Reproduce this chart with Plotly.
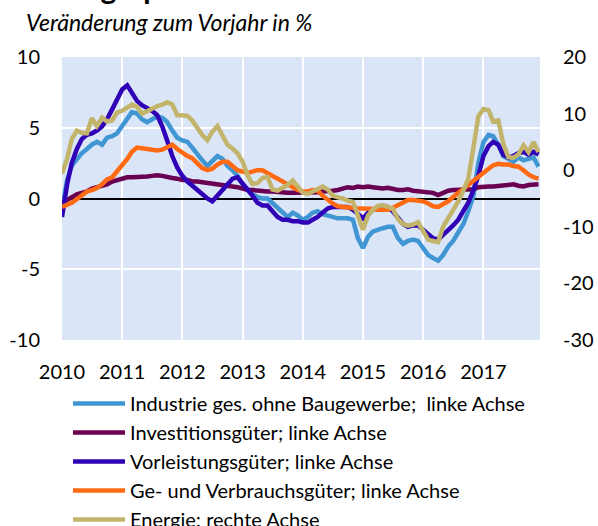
import pandas as pd
import plotly.graph_objects as go

months = pd.date_range("2010-01-01", "2017-12-01", freq="MS")

industrie = [-0.8, 1.3, 2.3, 2.8, 3.2, 3.5, 3.8, 4.0, 3.8, 4.3, 4.4, 4.6,
             5.1, 5.6, 6.1, 6.0, 5.6, 5.4, 5.6, 5.8, 5.7, 5.4, 4.8, 4.3,
             4.1, 4.0, 3.6, 3.1, 2.7, 2.3, 2.6, 3.0, 2.8, 2.3, 2.0, 1.6,
             1.0, 0.6, 0.3, 0.1, 0.0, 0.0, -0.3, -0.6, -0.9, -1.3, -1.0, -1.2,
             -1.5, -1.3, -1.0, -0.9, -1.1, -1.2, -1.3, -1.4, -1.4, -1.4, -1.5, -2.8,
             -3.5, -2.7, -2.35, -2.2, -2.1, -2.0, -2.0, -2.8, -3.2, -3.0, -2.9, -3.0,
             -3.5, -4.0, -4.2, -4.4, -4.0, -3.4, -3.0, -2.4, -1.8, -0.9, 0.2, 2.5,
             4.0, 4.5, 4.4, 3.8, 3.0, 2.8, 2.6, 2.9, 2.7, 2.8, 2.9, 2.25]

investition = [-0.3, -0.1, 0.1, 0.3, 0.4, 0.5, 0.7, 0.8, 0.9, 1.0, 1.2, 1.3,
               1.4, 1.5, 1.5, 1.5, 1.5, 1.55, 1.6, 1.65, 1.6, 1.5, 1.45, 1.4,
               1.3, 1.3, 1.2, 1.2, 1.15, 1.1, 1.05, 1.0, 0.95, 0.95, 0.9, 0.8,
               0.7, 0.6, 0.6, 0.55, 0.5, 0.5, 0.5, 0.45, 0.4, 0.4, 0.4, 0.4,
               0.4, 0.4, 0.4, 0.45, 0.5, 0.5, 0.55, 0.6, 0.7, 0.8, 0.75, 0.85,
               0.8, 0.85, 0.8, 0.75, 0.7, 0.75, 0.65, 0.6, 0.6, 0.65, 0.55, 0.5,
               0.45, 0.4, 0.4, 0.25, 0.4, 0.55, 0.6, 0.6, 0.6, 0.6, 0.65, 0.8,
               0.85, 0.85, 0.85, 0.9, 0.9, 0.95, 1.0, 0.9, 0.85, 0.95, 1.0, 1.0]

vorleistung = [-1.3, 1.0, 2.5, 3.5, 4.2, 4.5, 4.6, 4.8, 5.1, 5.6, 6.3, 7.0,
               7.7, 8.0, 7.5, 6.9, 6.6, 6.4, 6.2, 5.9, 5.1, 4.1, 3.0, 2.2,
               1.6, 1.2, 0.9, 0.6, 0.3, 0.0, -0.2, 0.2, 0.7, 1.1, 1.4, 1.5,
               1.0, 0.6, 0.2, -0.3, -0.5, -0.5, -0.9, -1.3, -1.5, -1.5, -1.6, -1.6,
               -1.7, -1.7, -1.5, -1.3, -1.0, -0.7, -0.6, -0.6, -0.6, -0.6, -0.8, -1.1,
               -1.4, -1.0, -0.8, -0.6, -0.5, -0.6, -0.9, -1.4, -1.8, -2.0, -1.9, -1.9,
               -2.2, -2.6, -2.8, -2.9, -2.6, -2.3, -1.9, -1.5, -0.9, -0.3, 0.6, 1.6,
               3.0, 3.7, 4.0, 3.8, 3.1, 2.9, 3.0, 3.2, 3.3, 3.1, 3.3, 3.1]

verbrauch = [-0.6, -0.45, -0.3, -0.05, 0.2, 0.5, 0.6, 0.75, 1.0, 1.35, 1.5, 1.9,
             2.3, 2.8, 3.3, 3.6, 3.55, 3.5, 3.4, 3.4, 3.45, 3.6, 3.8, 3.5,
             3.2, 3.0, 2.85, 2.5, 2.15, 2.0, 2.1, 2.4, 2.6, 2.6, 2.3, 2.0,
             1.9, 1.8, 1.9, 2.0, 2.0, 1.8, 1.55, 1.35, 1.15, 0.95, 0.75, 0.6,
             0.5, 0.5, 0.6, 0.55, 0.2, -0.1, -0.35, -0.55, -0.6, -0.65, -0.7, -0.7,
             -0.7, -0.7, -0.75, -0.8, -0.8, -0.8, -0.65, -0.45, -0.25, -0.1, -0.1, -0.15,
             -0.2, -0.35, -0.55, -0.6, -0.4, -0.2, 0.1, 0.4, 0.7, 1.0, 1.3, 1.6,
             1.85, 2.1, 2.35, 2.45, 2.4, 2.4, 2.3, 2.25, 2.0, 1.7, 1.5, 1.4]

energie = [-0.6, 2.0, 5.5, 7.0, 6.6, 6.5, 9.2, 7.8, 9.3, 8.6, 8.8, 10.2,
           10.5, 11.0, 11.6, 11.2, 10.0, 10.4, 10.9, 11.3, 11.6, 12.0, 11.6, 9.7,
           9.7, 9.6, 8.8, 7.4, 6.2, 5.3, 6.8, 7.8, 6.0, 4.5, 3.8, 3.0,
           1.5, -1.0, -2.4, -2.3, -1.4, -1.2, -3.4, -3.6, -3.1, -2.6, -1.8, -2.8,
           -4.0, -4.2, -3.8, -3.4, -2.9, -3.4, -4.5, -4.8, -5.0, -5.4, -5.6, -8.0,
           -10.5, -8.0, -7.0, -6.3, -6.2, -6.5, -6.8, -8.6, -9.5, -9.8, -9.6, -9.2,
           -10.8, -12.3, -12.5, -12.7, -10.0, -8.5, -7.0, -5.5, -3.6, -1.5, 4.0, 9.5,
           10.8, 10.6, 8.6, 8.8, 4.7, 2.3, 2.2, 2.8, 4.4, 3.2, 5.0, 3.2]

series_names = [
    "Industrie ges. ohne Baugewerbe;  linke Achse",
    "Investitionsgüter; linke Achse",
    "Vorleistungsgüter; linke Achse",
    "Ge- und Verbrauchsgüter; linke Achse",
    "Energie; rechte Achse",
]
series_values = [industrie, investition, vorleistung, verbrauch, energie]
series_axes = ["y", "y", "y", "y", "y2"]
series_colors = ["#3f96d3", "#6a0052", "#2f00b5", "#ff6a12", "#c2b46b"]

left_ticks = [-10, -5, 0, 5, 10]
left_labels = ["-10", "-5", "0", "5", "10"]
right_ticks = [-30, -20, -10, 0, 10, 20]
right_labels = ["-30", "-20", "-10", "0", "10", "20"]

FONT = "Lato"

fig = go.Figure()
for i, (name, vals, ax, col) in enumerate(zip(series_names, series_values, series_axes, series_colors)):
    fig.add_trace(go.Scatter(
        x=months, y=vals, name=name, yaxis=ax, mode="lines",
        line=dict(color=col, width=4.5), legendgroup=f"g{i}",
    ))

fig.update_layout(
    width=598, height=526,
    margin=dict(l=62, r=58, t=57, b=186, autoexpand=False),
    paper_bgcolor="white",
    plot_bgcolor="#dbe5f8",
    font=dict(family=FONT, color="black", size=17),
    showlegend=True,
    legend=dict(
        xref="container", yref="container",
        x=0.1137, y=1 - 384 / 526, xanchor="left", yanchor="top",
        font=dict(family=FONT, size=20, color="black"),
        tracegroupgap=0, itemwidth=52, bgcolor="rgba(0,0,0,0)",
    ),
    xaxis=dict(
        range=["2010-01-01", "2017-12-10"], automargin=False,
        tickformat="%Y", dtick="M12", tick0="2010-01-01",
        showgrid=True, gridcolor="white", gridwidth=2,
        showline=False, zeroline=False, ticks="",
        ticklabelstandoff=18,
        tickfont=dict(family=FONT, size=20, color="black"),
    ),
    yaxis=dict(
        range=[-10, 10], tickvals=left_ticks, ticktext=left_labels, automargin=False,
        showgrid=True, gridcolor="white", gridwidth=2,
        zeroline=True, zerolinecolor="black", zerolinewidth=1.5,
        showline=False, ticks="", ticklabelstandoff=21,
        tickfont=dict(family=FONT, size=20, color="black"),
    ),
    yaxis2=dict(
        range=[-30, 20], tickvals=right_ticks, ticktext=right_labels,
        overlaying="y", side="right", automargin=False,
        showgrid=False, zeroline=False, showline=False, ticks="",
        ticklabelstandoff=22,
        tickfont=dict(family=FONT, size=20, color="black"),
    ),
    annotations=[
        dict(text="<b>Erzeugerpreise</b>", xref="paper", yref="paper",
             x=-0.08, y=1.248, xanchor="left", yanchor="middle", showarrow=False,
             font=dict(family=FONT, size=30, color="black")),
        dict(text="<i>Veränderung zum Vorjahr in %</i>", xref="paper", yref="paper",
             x=-0.08, y=1.124, xanchor="left", yanchor="middle", showarrow=False,
             font=dict(family=FONT, size=23, color="black")),
    ],
)

fig.write_html("out.html", config={"displayModeBar": False},
               post_script="document.body.style.margin='0px';")
